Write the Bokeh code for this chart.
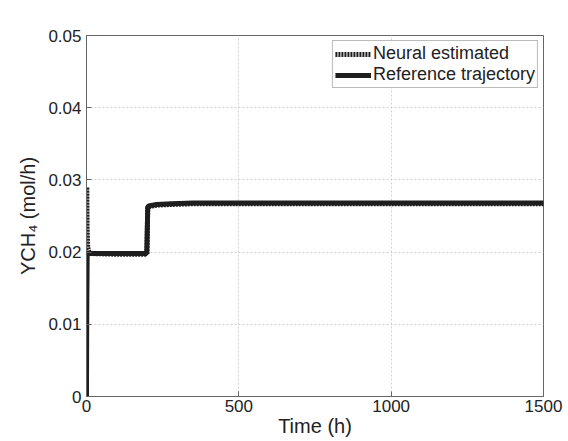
from bokeh.plotting import figure
from bokeh.models import FixedTicker, Legend, LegendItem
from bokeh.embed import file_html
from bokeh.resources import INLINE

# Data
ref_time = [0, 0.5, 2, 5, 100, 198, 201, 204, 230, 280, 350, 500, 1000, 1500]
ref_ych4 = [0, 0.011, 0.0198, 0.0198, 0.0198, 0.0198, 0.0262, 0.0264, 0.0266, 0.0267, 0.0268, 0.0268, 0.0268, 0.0268]
nn_time = [0, 1, 2, 4, 8, 15, 100, 198, 201, 204, 230, 280, 350, 500, 1000, 1500]
nn_ych4 = [0, 0.029, 0.0235, 0.0206, 0.0201, 0.0198, 0.0197, 0.0197, 0.0262, 0.0263, 0.0265, 0.0266, 0.0267, 0.0267, 0.0267, 0.0267]
x_ticks = [0, 500, 1000, 1500]
y_ticks = [0, 0.01, 0.02, 0.03, 0.04, 0.05]
y_labels = ["0", "0.01", "0.02", "0.03", "0.04", "0.05"]

FONT = "Liberation Sans"

p = figure(width=568, height=441, output_backend="svg", toolbar_location=None,
           x_range=(0, 1500), y_range=(0, 0.05),
           min_border_left=86, min_border_right=25, min_border_top=35, min_border_bottom=45)
p.background_fill_color = "white"
p.border_fill_color = "white"
p.outline_line_color = "#666666"
p.outline_line_width = 1

r_nn = p.line(nn_time, nn_ych4, line_color="#1e1e1e", line_width=5, line_dash="2 1")
r_ref = p.line(ref_time, ref_ych4, line_color="#1e1e1e", line_width=5)

for ax in (p.xaxis[0], p.yaxis[0]):
    ax.major_label_text_font = FONT
    ax.major_label_text_font_size = "17px"
    ax.major_label_text_color = "#222222"
    ax.axis_label_text_font = FONT
    ax.axis_label_text_font_size = "20px"
    ax.axis_label_text_font_style = "normal"
    ax.axis_label_text_color = "#222222"
    ax.axis_line_color = "#666666"
    ax.major_tick_line_color = "#666666"
    ax.major_tick_in = 5
    ax.major_tick_out = 0
    ax.minor_tick_line_color = None

p.xaxis.ticker = FixedTicker(ticks=x_ticks)
p.yaxis.ticker = FixedTicker(ticks=y_ticks)
p.yaxis.major_label_overrides = {v: s for v, s in zip(y_ticks, y_labels)}
p.xaxis.axis_label = "Time (h)"
p.yaxis.axis_label = "YCH\u2084 (mol/h)"
p.xaxis.axis_label_standoff = 0
p.yaxis.axis_label_standoff = 6
p.xaxis.major_label_standoff = 3
p.yaxis.major_label_standoff = 5

p.grid.grid_line_color = "#d0d0d0"
p.grid.grid_line_dash = "2 2"
p.grid.grid_line_width = 1

legend = Legend(items=[LegendItem(label="Neural estimated", renderers=[r_nn]),
                       LegendItem(label="Reference trajectory", renderers=[r_ref])],
                location="top_right")
legend.label_text_font = FONT
legend.label_text_font_size = "18px"
legend.label_text_color = "#222222"
legend.border_line_color = "#777777"
legend.border_line_width = 1
legend.background_fill_alpha = 1
legend.padding = 2
legend.spacing = 0
legend.margin = 5
legend.glyph_width = 36
legend.glyph_height = 20
legend.label_standoff = 2
legend.label_height = 20
p.add_layout(legend)

open("out.html", "w").write(file_html(p, INLINE))
